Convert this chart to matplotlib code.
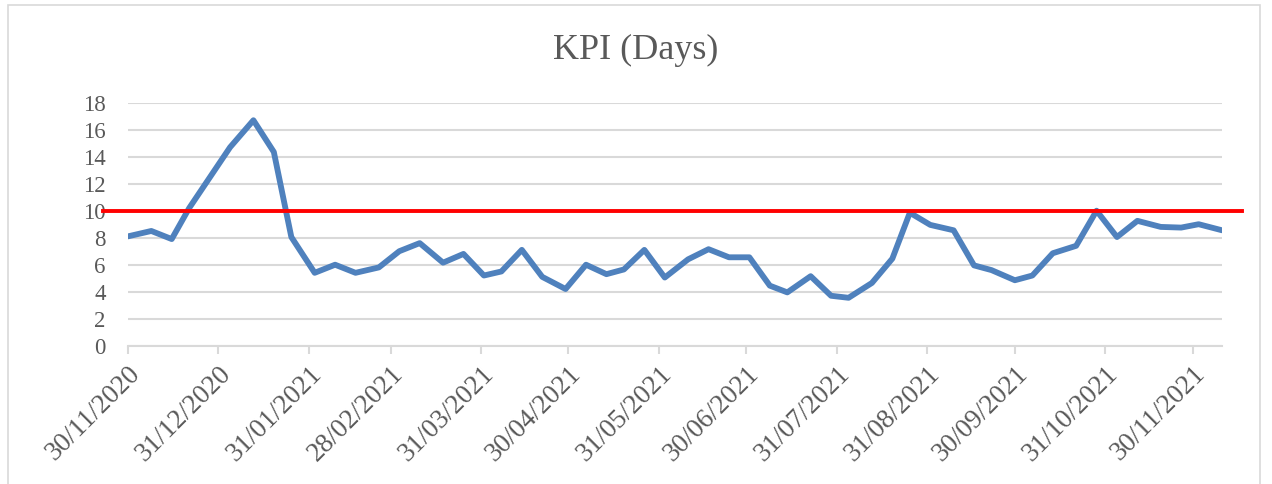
import matplotlib
matplotlib.use('Agg')
import matplotlib.pyplot as plt
import pandas as pd
from matplotlib.patches import Rectangle

# weekly KPI readings (dates)
dates = ['30/11/2020', '08/12/2020', '15/12/2020', '21/12/2020', '28/12/2020',
         '04/01/2021', '12/01/2021', '19/01/2021', '25/01/2021', '02/02/2021',
         '09/02/2021', '16/02/2021', '24/02/2021', '03/03/2021', '10/03/2021',
         '18/03/2021', '25/03/2021', '01/04/2021', '07/04/2021', '14/04/2021',
         '21/04/2021', '29/04/2021', '06/05/2021', '13/05/2021', '19/05/2021',
         '26/05/2021', '02/06/2021', '10/06/2021', '17/06/2021', '24/06/2021',
         '01/07/2021', '08/07/2021', '14/07/2021', '22/07/2021', '29/07/2021',
         '04/08/2021', '12/08/2021', '19/08/2021', '25/08/2021', '01/09/2021',
         '09/09/2021', '16/09/2021', '22/09/2021', '30/09/2021', '06/10/2021',
         '13/10/2021', '21/10/2021', '28/10/2021', '04/11/2021', '11/11/2021',
         '19/11/2021', '26/11/2021', '02/12/2021', '10/12/2021']
kpi_days = [8.1, 8.5, 7.9, 10.2, 12.45, 14.7, 16.7, 14.35, 8.05, 5.4,
            6.0, 5.4, 5.8, 7.0, 7.6, 6.15, 6.8, 5.2, 5.5, 7.1,
            5.1, 4.2, 6.0, 5.3, 5.65, 7.1, 5.05, 6.4, 7.15, 6.55,
            6.55, 4.45, 3.95, 5.15, 3.7, 3.55, 4.65, 6.45, 9.85, 8.95,
            8.55, 5.95, 5.6, 4.85, 5.2, 6.85, 7.4, 10.0, 8.05, 9.25,
            8.8, 8.75, 9.0, 8.55]
target = 10

tick_dates = ['30/11/2020', '31/12/2020', '31/01/2021', '28/02/2021', '31/03/2021',
              '30/04/2021', '31/05/2021', '30/06/2021', '31/07/2021', '31/08/2021',
              '30/09/2021', '31/10/2021', '30/11/2021']
y_ticks = list(range(0, 19, 2))

x = pd.to_datetime(dates, dayfirst=True)
xt = pd.to_datetime(tick_dates, dayfirst=True)

grey_text = '#595959'
grid_col = '#D9D9D9'
serif = ['Liberation Serif', 'DejaVu Serif']

fig = plt.figure(figsize=(12.72, 4.84), dpi=100)
ax = fig.add_axes([0.1006, 0.2857, 0.8601, 0.5021])

# chart border
fig.patches.append(Rectangle((8 / 1272, -0.05), (1260 - 8) / 1272, 1.05 - 5 / 484,
                             transform=fig.transFigure, fill=False,
                             edgecolor=grid_col, linewidth=1.2))

ax.plot(x, kpi_days, color='#4F81BD', linewidth=4.2, solid_joinstyle='round',
        solid_capstyle='round', zorder=3)
ax.axhline(target, xmin=-0.023, xmax=1.018, color='#FF0000', linewidth=2.8,
           clip_on=False, zorder=4)

ax.set_xlim(x[0], x[-1])
ax.set_ylim(0, 18)
ax.set_yticks(y_ticks)
ax.set_xticks(xt)
ax.set_xticklabels(tick_dates, rotation=45, ha='right', rotation_mode='anchor',
                   family=serif, fontsize=19.5, color=grey_text)
ax.set_yticklabels([str(v) for v in y_ticks], family=serif, fontsize=16.5,
                   color=grey_text)

ax.grid(axis='y', color=grid_col, linewidth=1.5)
ax.set_axisbelow(True)
for side in ['top', 'right', 'left']:
    ax.spines[side].set_visible(False)
ax.spines['bottom'].set_color(grid_col)
ax.spines['bottom'].set_linewidth(1.5)
ax.tick_params(axis='y', length=0, pad=16)
ax.tick_params(axis='x', direction='out', length=6, width=1.5, color=grid_col, pad=5)

fig.text(0.5, 1 - 50 / 484, 'KPI (Days)', ha='center', va='center',
         family=serif, fontsize=26, color=grey_text)

fig.savefig('out.png', dpi=100)
